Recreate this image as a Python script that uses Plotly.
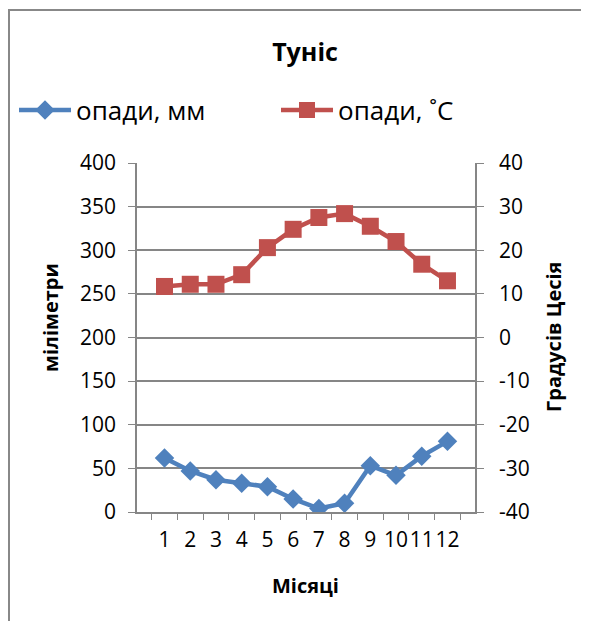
import plotly.graph_objects as go

months = ["1", "2", "3", "4", "5", "6", "7", "8", "9", "10", "11", "12"]
precip_mm = [62, 47, 37, 33, 29, 15, 4, 10, 53, 42, 64, 81]
temp_c = [11.7, 12.2, 12.2, 14.4, 20.6, 24.8, 27.5, 28.4, 25.5, 22.0, 16.8, 13.0]
temp_ticks = [-40, -30, -20, -10, 0, 10, 20, 30, 40]

blue = "#4F81BD"
red = "#C0504D"
grid = "#868686"
font = "Open Sans, Noto Sans, sans-serif"

# figure is drawn inside the page's 8px body margin
FW, FH = 581, 613
L, T, W, H = 129, 155, 338, 349

fig = go.Figure()
fig.add_trace(go.Scatter(x=months, y=precip_mm, name="опади, мм",
                         mode="lines+markers", legend="legend",
                         line=dict(color=blue, width=4.5),
                         marker=dict(symbol="diamond", size=15, color=blue)))
fig.add_trace(go.Scatter(x=months, y=temp_c, name="опади, ˚С", yaxis="y2",
                         mode="lines+markers", legend="legend2",
                         line=dict(color=red, width=4.5),
                         marker=dict(symbol="square", size=17, color=red)))

leg = dict(orientation="h", xref="container", yref="container",
           xanchor="left", y=1 - 102 / FH, yanchor="middle",
           font=dict(size=26), itemwidth=52, bgcolor="rgba(0,0,0,0)")

fig.update_layout(
    width=FW, height=FH,
    paper_bgcolor="white", plot_bgcolor="white",
    margin=dict(l=L, r=FW - L - W, t=T, b=FH - T - H),
    font=dict(family=font, size=21, color="black"),
    title=dict(text="<b>Туніс</b>", x=297 / FW, xref="container", xanchor="center",
               y=1 - 44 / FH, yref="container", yanchor="middle", font=dict(size=25)),
    showlegend=True,
    legend=dict(leg, x=6 / FW),
    legend2=dict(leg, x=268 / FW),
    xaxis=dict(type="category", tickson="boundaries", ticks="outside", ticklen=6,
               tickcolor=grid, showline=True, linecolor=grid, linewidth=1.5,
               showgrid=False, tickangle=0, automargin=False,
               ticklabelstandoff=8),
    yaxis=dict(range=[0, 400], dtick=50, ticks="outside", ticklen=7, tickcolor=grid,
               showline=True, linecolor=grid, linewidth=1.5,
               gridcolor=grid, gridwidth=1.5, zeroline=False, automargin=False,
               ticklabelstandoff=8),
    yaxis2=dict(range=[-40, 40], tickvals=temp_ticks,
                ticktext=[str(v) for v in temp_ticks], overlaying="y", side="right",
                ticks="outside", ticklen=7, tickcolor=grid,
                showline=True, linecolor=grid, linewidth=1.5, automargin=False,
                showgrid=False, zeroline=False, ticklabelstandoff=11),
)

# axis titles
fig.add_annotation(text="<b>міліметри</b>", xref="paper", yref="paper",
                   x=(42 - L) / W, y=1 - (310 - T) / H, textangle=-90,
                   xanchor="center", yanchor="middle",
                   showarrow=False, font=dict(size=20))
fig.add_annotation(text="<b>Градусів Цесія</b>", xref="paper", yref="paper",
                   x=(545 - L) / W, y=1 - (329 - T) / H, textangle=-90,
                   xanchor="center", yanchor="middle",
                   showarrow=False, font=dict(size=20))
fig.add_annotation(text="<b>Місяці</b>", xref="paper", yref="paper",
                   x=(297 - L) / W, y=1 - (577 - T) / H,
                   xanchor="center", yanchor="middle",
                   showarrow=False, font=dict(size=20))

# chart frame
fig.add_shape(type="rect", xref="paper", yref="paper",
              x0=(1 - L) / W, x1=(640 - L) / W,
              y0=1 - (660 - T) / H, y1=1 + (T - 2) / H,
              line=dict(color="#888888", width=2), layer="below")

fig.write_html("out.html", post_script="document.body.style.overflow='hidden';")
